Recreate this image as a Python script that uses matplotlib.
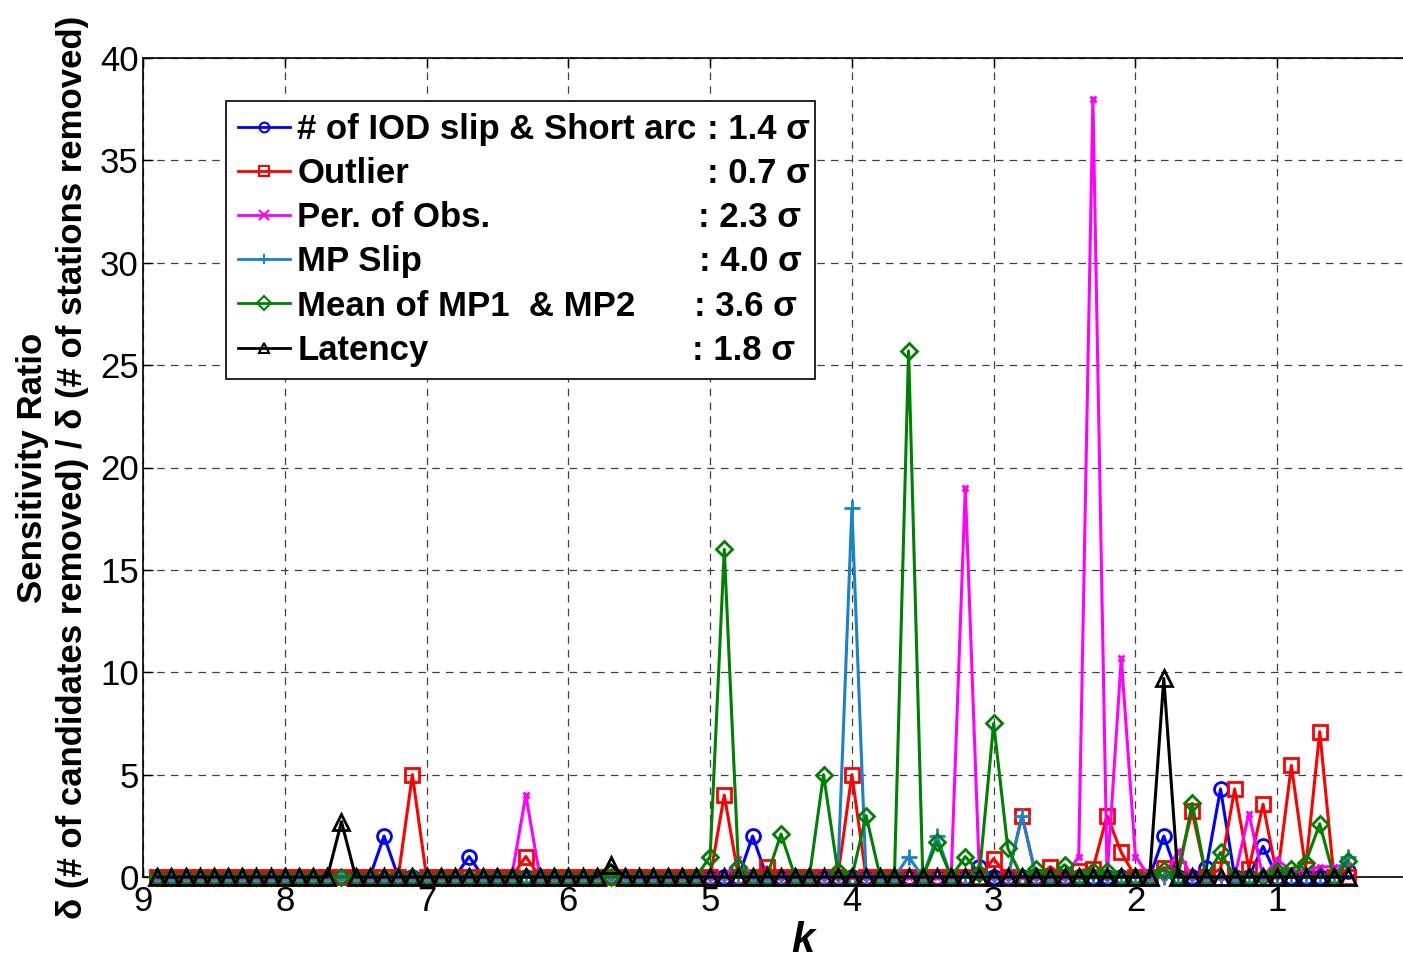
import numpy as np
import matplotlib
matplotlib.use("Agg")
import matplotlib.pyplot as plt

plt.rcParams['font.family'] = ['Liberation Sans', 'DejaVu Sans']

# k grid (reversed axis), 8.9 ... 0.5 in steps of 0.1
k_vals = [round(v / 10, 1) for v in range(89, 4, -1)]

# non-zero sensitivity ratios (all other k are 0)
iod_slip = {7.3: 2.0, 6.7: 1.0, 4.7: 2.0, 3.1: 0.5, 1.8: 2.0, 1.5: 0.45,
            1.4: 4.3, 1.1: 1.5, 0.5: 0.3}
outlier = {7.1: 5.0, 6.3: 1.0, 4.9: 4.0, 4.6: 0.5, 4.0: 5.0, 3.0: 0.9,
           2.8: 3.0, 2.6: 0.5, 2.4: 0.3, 2.3: 0.4, 2.2: 3.0, 2.1: 1.2,
           1.8: 0.45, 1.7: 0.4, 1.6: 3.2, 1.4: 0.4, 1.3: 4.3, 1.2: 0.4,
           1.1: 3.55, 0.9: 5.45, 0.8: 0.4, 0.7: 7.1}
per_obs = {6.3: 4.0, 4.8: 0.9, 3.2: 19.0, 2.4: 1.0, 2.3: 38.0, 2.1: 10.7,
           2.0: 1.0, 1.7: 1.25, 1.2: 3.1, 1.0: 0.85, 0.9: 0.3, 0.8: 0.3,
           0.7: 0.5, 0.6: 0.5, 0.5: 0.6}
mp_slip = {4.0: 18.0, 3.6: 1.0, 3.4: 2.0, 2.8: 3.0, 0.5: 1.0}
mean_mp = {5.0: 1.0, 4.9: 16.0, 4.8: 0.5, 4.5: 2.1, 4.2: 5.0, 4.1: 0.3,
           3.9: 3.0, 3.6: 25.7, 3.4: 1.7, 3.2: 1.0, 3.1: 0.2, 3.0: 7.5,
           2.9: 1.4, 2.7: 0.4, 2.5: 0.6, 2.3: 0.3, 2.2: 0.3, 1.8: 0.35,
           1.6: 3.6, 1.4: 1.2, 1.0: 0.3, 0.9: 0.4, 0.8: 0.7, 0.7: 2.6,
           0.5: 0.8}
latency = {7.6: 2.7, 5.7: 0.6, 1.8: 9.7}

labels = ['# of IOD slip & Short arc', 'Outlier', 'Per. of Obs.', 'MP Slip',
          'Mean of MP1  & MP2', 'Latency']
thresholds = [': 1.4 σ', ': 0.7 σ', ': 2.3 σ', ': 4.0 σ', ': 3.6 σ', ': 1.8 σ']
x_ticks = [9, 8, 7, 6, 5, 4, 3, 2, 1]
y_ticks = [0, 5, 10, 15, 20, 25, 30, 35, 40]

series = [iod_slip, outlier, per_obs, mp_slip, mean_mp, latency]
colors = ['#0000ff', '#ff0000', '#ff00ff', '#1a82c8', '#008000', '#000000']
markers = ['o', 's', 'x', '+', 'D', '^']
msizes = [10, 10, 5, 12, 8, 11]

fig = plt.figure(figsize=(14.03, 9.59), dpi=100)
ax = fig.add_axes([143 / 1403, 1 - 877 / 959, (1419 - 143) / 1403, (877 - 58) / 959])

for d, c, m, ms, lab in zip(series, colors, markers, msizes, labels):
    y = [d.get(k, 0.0) for k in k_vals]
    ax.plot(k_vals, y, color=c, marker=m, markersize=ms, markerfacecolor='none',
            markeredgecolor=c, markeredgewidth=2, linewidth=2.2, label=lab,
            clip_on=False, zorder=3)

ax.set_xlim(9, 0)
ax.set_ylim(0, 40)
ax.set_xticks(x_ticks)
ax.set_yticks(y_ticks)
ax.tick_params(axis='both', direction='in', length=7, width=1, labelsize=25,
               top=True, right=True)
ax.tick_params(axis='x', pad=6)
ax.tick_params(axis='y', pad=3)
ax.grid(True, linestyle=(0, (6, 5)), linewidth=0.9, color='0.25')
ax.set_axisbelow(True)
for sp in ax.spines.values():
    sp.set_linewidth(1.2)

ax.set_xlabel('k', fontsize=30, fontweight='bold', fontstyle='italic', va='top')
ax.xaxis.set_label_coords((803 - 143) / 1276, -0.054)
ax.set_ylabel('Sensitivity Ratio\nδ (# of candidates removed) / δ (# of stations removed)',
              fontsize=25, fontweight='bold', linespacing=1.3)
ax.yaxis.set_label_coords(-0.042, 0.5)

leg = ax.legend(loc='upper left', bbox_to_anchor=(226 / 1403, 1 - 101 / 959, (815 - 226) / 1403, 0),
                bbox_transform=fig.transFigure, mode='expand', borderaxespad=0,
                prop={'weight': 'bold', 'size': 25}, fancybox=False, framealpha=1,
                edgecolor='black', handlelength=1.5, handletextpad=0.2,
                labelspacing=0.32, borderpad=0.35)
leg.get_frame().set_linewidth(1.2)
for h in leg.get_lines():
    h.set_markersize(7)
    h.set_markeredgewidth(1.5)
    h.set_linewidth(2)

fig.canvas.draw()
right_edges = [810, 810, 801, 802, 797, 795]
inv = fig.transFigure.inverted()
for t, txt, rx in zip(leg.get_texts(), thresholds, right_edges):
    bb = t.get_window_extent()
    yc = (bb.y0 + bb.y1) / 2
    fx, fy = inv.transform((rx, yc))
    fig.text(fx, fy, txt, ha='right', va='center', fontsize=25, fontweight='bold')

fig.savefig('out.png', dpi=100)
